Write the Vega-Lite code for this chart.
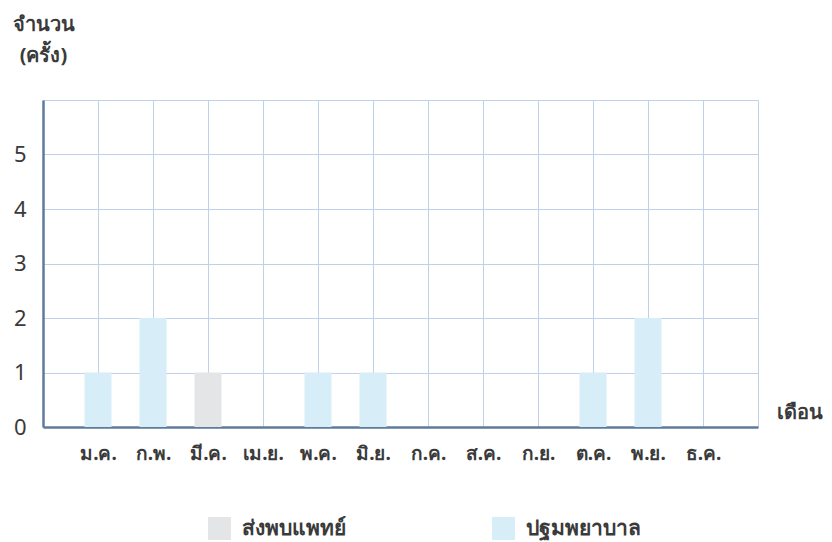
{
  "$schema": "https://vega.github.io/schema/vega-lite/v6.json",
  "width": 715,
  "height": 327,
  "autosize": {"type": "none"},
  "padding": {"left": 43, "top": 100, "right": 74, "bottom": 115},
  "background": "white",
  "config": {
    "font": "Noto Sans",
    "view": {"stroke": null},
    "axis": {"gridColor": "#bfd0e9", "gridWidth": 1, "ticks": false, "domainColor": "#5d7b9b", "domainWidth": 2.5, "labelColor": "#3a3a3a", "labelFont": "Noto Sans", "labelFontSize": 19, "titleColor": "#3a3a3a", "titleFont": "Noto Sans"}
  },
  "data": {
    "values": [
      {"month": "ม.ค.", "type": "ปฐมพยาบาล", "count": 1},
      {"month": "ก.พ.", "type": "ปฐมพยาบาล", "count": 2},
      {"month": "มี.ค.", "type": "ส่งพบแพทย์", "count": 1},
      {"month": "พ.ค.", "type": "ปฐมพยาบาล", "count": 1},
      {"month": "มิ.ย.", "type": "ปฐมพยาบาล", "count": 1},
      {"month": "ต.ค.", "type": "ปฐมพยาบาล", "count": 1},
      {"month": "พ.ย.", "type": "ปฐมพยาบาล", "count": 2}
    ]
  },
  "mark": {"type": "bar", "width": 27},
  "encoding": {
    "x": {
      "field": "month",
      "type": "ordinal",
      "scale": {"type": "point", "padding": 0, "domain": ["", "ม.ค.", "ก.พ.", "มี.ค.", "เม.ย.", "พ.ค.", "มิ.ย.", "ก.ค.", "ส.ค.", "ก.ย.", "ต.ค.", "พ.ย.", "ธ.ค.", " "]},
      "axis": {
        "grid": true,
        "labelAngle": 0,
        "labelPadding": 17,
        "labelFontWeight": "bold",
        "labelBaseline": "top",
        "title": "เดือน",
        "titleFontSize": 20,
        "titleFontWeight": "bold",
        "titleAngle": 0,
        "titleAlign": "left",
        "titleBaseline": "middle",
        "titleX": 733,
        "titleY": -15
      }
    },
    "y": {
      "field": "count",
      "type": "quantitative",
      "scale": {"domain": [0, 6], "nice": false},
      "axis": {
        "values": [0, 1, 2, 3, 4, 5, 6],
        "labelExpr": "datum.value == 6 ? '' : datum.label",
        "labelPadding": 17,
        "labelFontSize": 22,
        "title": ["จำนวน", "(ครั้ง)"],
        "titleFontSize": 20,
        "titleFontWeight": "bold",
        "titleAngle": 0,
        "titleAlign": "center",
        "titleBaseline": "top",
        "titleLineHeight": 31,
        "titleX": 0,
        "titleY": -86
      }
    },
    "color": {
      "field": "type",
      "type": "nominal",
      "scale": {"domain": ["ส่งพบแพทย์", "ปฐมพยาบาล"], "range": ["#e4e5e6", "#d7edf8"]},
      "legend": {
        "title": null,
        "orient": "none",
        "legendX": 165,
        "legendY": 417,
        "direction": "horizontal",
        "columns": 2,
        "padding": 0,
        "symbolType": "square",
        "symbolSize": 529,
        "symbolStrokeWidth": 0,
        "labelFontSize": 21,
        "labelFontWeight": "bold",
        "labelColor": "#3a3a3a",
        "labelOffset": 11,
        "columnPadding": 146
      }
    }
  }
}
